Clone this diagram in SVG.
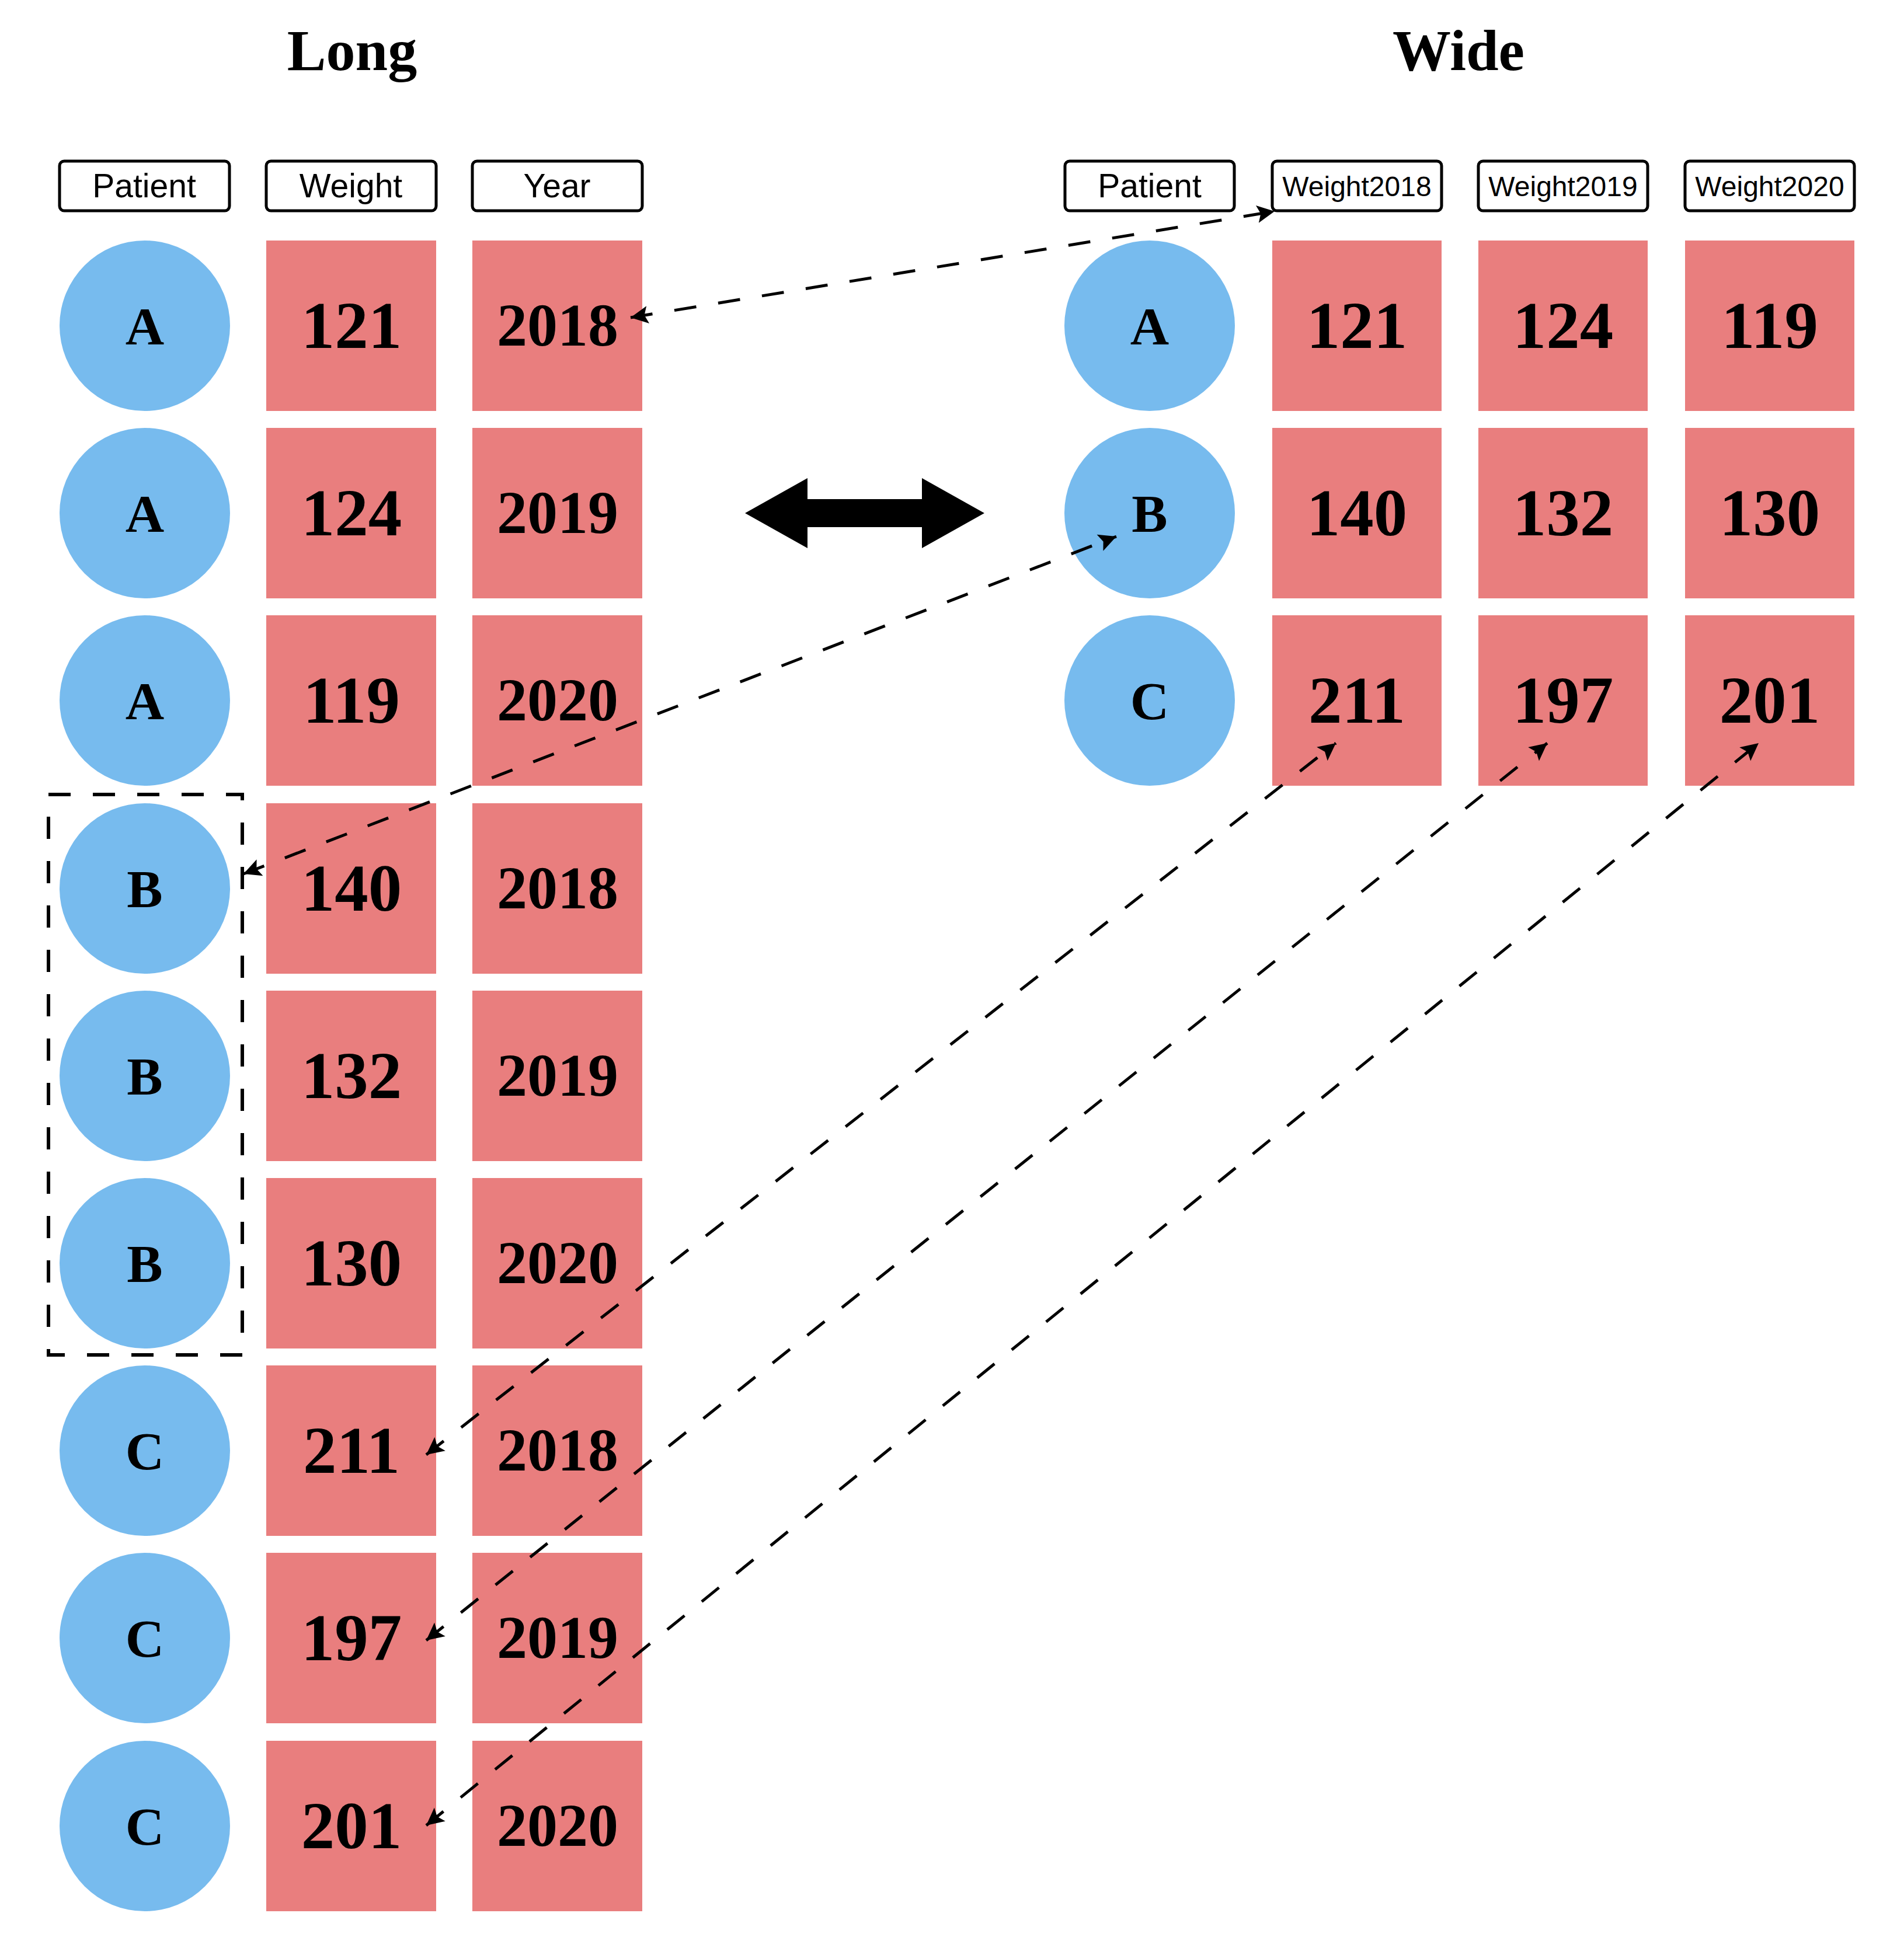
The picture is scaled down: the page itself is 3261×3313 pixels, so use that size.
<svg xmlns="http://www.w3.org/2000/svg" width="3261" height="3313" viewBox="0 0 3261 3313">
<style>
.bg{fill:#ffffff}
.title{font-family:"Liberation Serif","DejaVu Serif",serif;font-weight:bold;font-size:100px;fill:#000;text-anchor:middle}
.hbox{fill:#ffffff;stroke:#000;stroke-width:5}
.htext{font-family:"Liberation Sans","DejaVu Sans",sans-serif;font-size:57px;fill:#000;text-anchor:middle}
.htext2{font-family:"Liberation Sans","DejaVu Sans",sans-serif;font-size:48px;fill:#000;text-anchor:middle}
.pt{fill:#77BBEE}
.cell{fill:#E97E7E}
.ptext{font-family:"Liberation Serif","DejaVu Serif",serif;font-weight:bold;font-size:92px;fill:#000;text-anchor:middle}
.wtext{font-family:"Liberation Serif","DejaVu Serif",serif;font-weight:bold;font-size:115px;fill:#000;text-anchor:middle}
.ytext{font-family:"Liberation Serif","DejaVu Serif",serif;font-weight:bold;font-size:104px;fill:#000;text-anchor:middle}
.conn{fill:none;stroke:#000;stroke-width:5;stroke-dasharray:38 38}
.group{fill:none;stroke:#000;stroke-width:6;stroke-dasharray:38 38}
</style>
<defs>
<marker id="ah" viewBox="-32 -17 34 34" refX="0" refY="0" markerWidth="34" markerHeight="34" markerUnits="userSpaceOnUse" orient="auto-start-reverse">
<path d="M0,0 L-30,-15 L-24,0 L-30,15 Z" fill="#000"/>
</marker>
</defs>
<rect class="bg" x="0" y="0" width="3261" height="3313"/>

<text id="title-long" class="title" x="603" y="120">Long</text>
<text id="title-wide" class="title" x="2498" y="120">Wide</text>

<g id="long-headers">
<g id="lh-patient"><rect class="hbox" x="102" y="276" width="291" height="85" rx="8"/><text class="htext" x="247" y="338">Patient</text></g>
<g id="lh-weight"><rect class="hbox" x="456" y="276" width="291" height="85" rx="8"/><text class="htext" x="601" y="338">Weight</text></g>
<g id="lh-year"><rect class="hbox" x="809" y="276" width="291" height="85" rx="8"/><text class="htext" x="954" y="338">Year</text></g>
</g>

<g id="wide-headers">
<g id="wh-patient"><rect class="hbox" x="1824" y="276" width="290" height="85" rx="8"/><text class="htext" x="1969" y="338">Patient</text></g>
<g id="wh-w2018"><rect class="hbox" x="2179" y="276" width="290" height="85" rx="8"/><text class="htext2" x="2324" y="336">Weight2018</text></g>
<g id="wh-w2019"><rect class="hbox" x="2532" y="276" width="290" height="85" rx="8"/><text class="htext2" x="2677" y="336">Weight2019</text></g>
<g id="wh-w2020"><rect class="hbox" x="2886" y="276" width="290" height="85" rx="8"/><text class="htext2" x="3031" y="336">Weight2020</text></g>
</g>

<g id="long-rows">
<g id="long-r0"><circle class="pt" cx="248" cy="558" r="146"/><text class="ptext" x="248" y="590">A</text>
<rect class="cell" x="456" y="412" width="291" height="292"/><text class="wtext" x="602" y="596">121</text>
<rect class="cell" x="809" y="412" width="291" height="292"/><text class="ytext" x="955" y="592">2018</text></g>
<g id="long-r1"><circle class="pt" cx="248" cy="879" r="146"/><text class="ptext" x="248" y="911">A</text>
<rect class="cell" x="456" y="733" width="291" height="292"/><text class="wtext" x="602" y="917">124</text>
<rect class="cell" x="809" y="733" width="291" height="292"/><text class="ytext" x="955" y="913">2019</text></g>
<g id="long-r2"><circle class="pt" cx="248" cy="1200" r="146"/><text class="ptext" x="248" y="1232">A</text>
<rect class="cell" x="456" y="1054" width="291" height="292"/><text class="wtext" x="602" y="1238">119</text>
<rect class="cell" x="809" y="1054" width="291" height="292"/><text class="ytext" x="955" y="1234">2020</text></g>
<g id="long-r3"><circle class="pt" cx="248" cy="1522" r="146"/><text class="ptext" x="248" y="1554">B</text>
<rect class="cell" x="456" y="1376" width="291" height="292"/><text class="wtext" x="602" y="1560">140</text>
<rect class="cell" x="809" y="1376" width="291" height="292"/><text class="ytext" x="955" y="1556">2018</text></g>
<g id="long-r4"><circle class="pt" cx="248" cy="1843" r="146"/><text class="ptext" x="248" y="1875">B</text>
<rect class="cell" x="456" y="1697" width="291" height="292"/><text class="wtext" x="602" y="1881">132</text>
<rect class="cell" x="809" y="1697" width="291" height="292"/><text class="ytext" x="955" y="1877">2019</text></g>
<g id="long-r5"><circle class="pt" cx="248" cy="2164" r="146"/><text class="ptext" x="248" y="2196">B</text>
<rect class="cell" x="456" y="2018" width="291" height="292"/><text class="wtext" x="602" y="2202">130</text>
<rect class="cell" x="809" y="2018" width="291" height="292"/><text class="ytext" x="955" y="2198">2020</text></g>
<g id="long-r6"><circle class="pt" cx="248" cy="2485" r="146"/><text class="ptext" x="248" y="2517">C</text>
<rect class="cell" x="456" y="2339" width="291" height="292"/><text class="wtext" x="602" y="2523">211</text>
<rect class="cell" x="809" y="2339" width="291" height="292"/><text class="ytext" x="955" y="2519">2018</text></g>
<g id="long-r7"><circle class="pt" cx="248" cy="2806" r="146"/><text class="ptext" x="248" y="2838">C</text>
<rect class="cell" x="456" y="2660" width="291" height="292"/><text class="wtext" x="602" y="2844">197</text>
<rect class="cell" x="809" y="2660" width="291" height="292"/><text class="ytext" x="955" y="2840">2019</text></g>
<g id="long-r8"><circle class="pt" cx="248" cy="3128" r="146"/><text class="ptext" x="248" y="3160">C</text>
<rect class="cell" x="456" y="2982" width="291" height="292"/><text class="wtext" x="602" y="3166">201</text>
<rect class="cell" x="809" y="2982" width="291" height="292"/><text class="ytext" x="955" y="3162">2020</text></g>
</g>

<g id="wide-rows">
<g id="wide-r0"><circle class="pt" cx="1969" cy="558" r="146"/><text class="ptext" x="1969" y="590">A</text>
<rect class="cell" x="2179" y="412" width="290" height="292"/><text class="wtext" x="2324" y="596">121</text>
<rect class="cell" x="2532" y="412" width="290" height="292"/><text class="wtext" x="2677" y="596">124</text>
<rect class="cell" x="2886" y="412" width="290" height="292"/><text class="wtext" x="3031" y="596">119</text></g>
<g id="wide-r1"><circle class="pt" cx="1969" cy="879" r="146"/><text class="ptext" x="1969" y="911">B</text>
<rect class="cell" x="2179" y="733" width="290" height="292"/><text class="wtext" x="2324" y="917">140</text>
<rect class="cell" x="2532" y="733" width="290" height="292"/><text class="wtext" x="2677" y="917">132</text>
<rect class="cell" x="2886" y="733" width="290" height="292"/><text class="wtext" x="3031" y="917">130</text></g>
<g id="wide-r2"><circle class="pt" cx="1969" cy="1200" r="146"/><text class="ptext" x="1969" y="1232">C</text>
<rect class="cell" x="2179" y="1054" width="290" height="292"/><text class="wtext" x="2324" y="1238">211</text>
<rect class="cell" x="2532" y="1054" width="290" height="292"/><text class="wtext" x="2677" y="1238">197</text>
<rect class="cell" x="2886" y="1054" width="290" height="292"/><text class="wtext" x="3031" y="1238">201</text></g>
</g>

<rect id="group-b" class="group" x="83" y="1361" width="332" height="960"/>

<polygon id="double-arrow" fill="#000" points="1276,879 1383,819 1383,855 1579,855 1579,819 1686,879 1579,939 1579,903 1383,903 1383,939"/>

<g id="connectors">
<line class="conn" x1="1080" y1="544" x2="2183" y2="362" marker-start="url(#ah)" marker-end="url(#ah)"/>
<line class="conn" x1="417" y1="1497" x2="1912" y2="919" marker-start="url(#ah)" marker-end="url(#ah)"/>
<line class="conn" x1="730" y1="2492" x2="2288" y2="1273" marker-start="url(#ah)" marker-end="url(#ah)"/>
<line class="conn" x1="730" y1="2810" x2="2650" y2="1273" marker-start="url(#ah)" marker-end="url(#ah)"/>
<line class="conn" x1="730" y1="3127" x2="3012" y2="1273" marker-start="url(#ah)" marker-end="url(#ah)"/>
</g>
</svg>
